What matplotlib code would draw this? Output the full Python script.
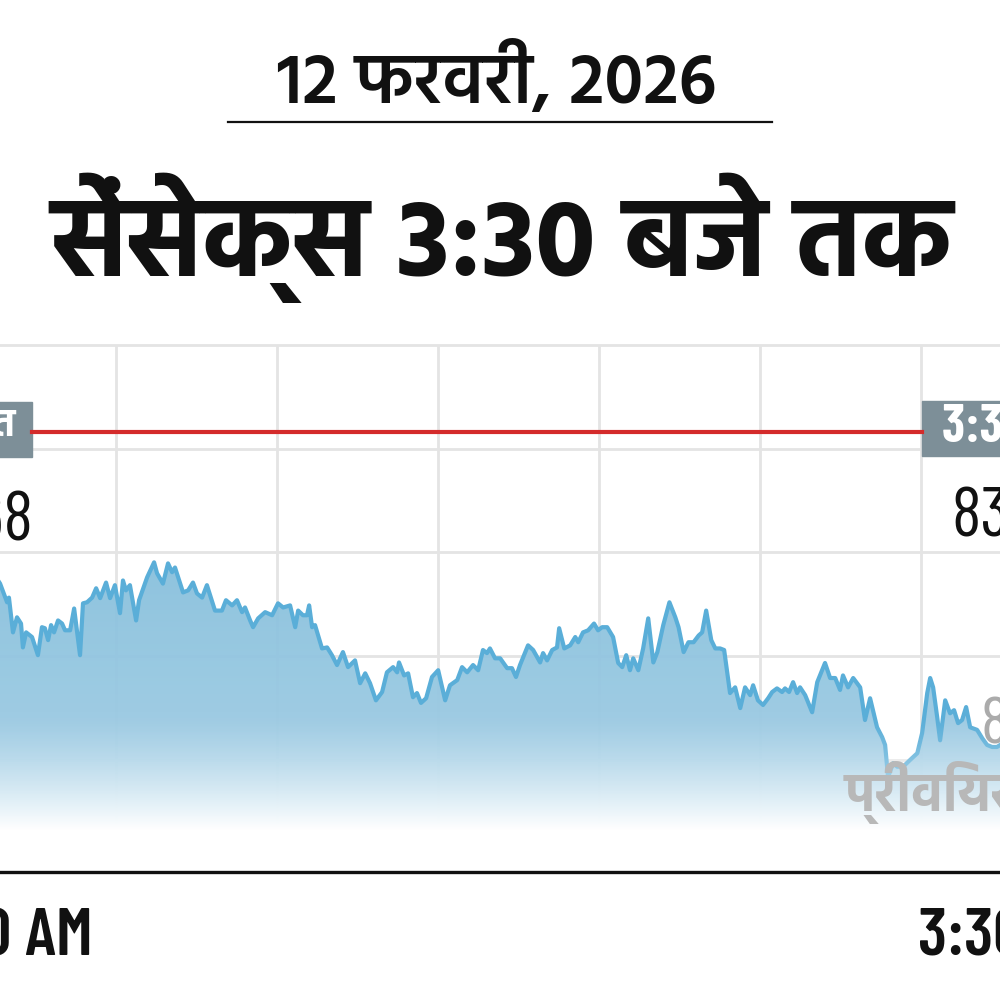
import numpy as np
import matplotlib
matplotlib.use("Agg")
import matplotlib.pyplot as plt
from matplotlib.colors import LinearSegmentedColormap
from matplotlib.patches import Polygon, Rectangle
from matplotlib.lines import Line2D

# minutes after 9:15 AM and Sensex level
minutes = [0.0, 1.9, 4.5, 5.2, 6.7, 8.2, 9.7, 10.4, 11.6, 13.8, 16.0, 17.5, 18.6, 19.8, 20.9,
           22.0, 23.5, 25.0, 26.1, 28.0, 29.5, 31.7, 32.8, 34.3, 36.2, 37.7, 39.2, 41.4, 42.9,
           44.7, 46.6, 47.7, 48.8, 50.3, 52.6, 53.7, 56.7, 59.3, 60.4, 62.6, 64.5, 66.0, 67.1,
           70.1, 72.0, 73.8, 75.3, 77.2, 79.0, 82.0, 84.6, 86.1, 88.4, 90.2, 92.1, 93.2, 95.1,
           96.2, 98.1, 100.7, 103.3, 105.5, 107.4, 110.0, 111.9, 113.0, 114.8, 116.3, 117.1,
           118.2, 119.3, 121.9, 123.8, 125.6, 127.5, 129.7, 131.6, 134.2, 136.1, 138.0, 139.8,
           142.0, 144.3, 146.1, 148.4, 149.9, 150.6, 152.5, 154.0, 155.8, 157.3, 158.8, 160.7,
           162.9, 165.2, 167.8, 169.6, 172.3, 174.1, 176.0, 178.2, 180.1, 181.9, 183.4, 184.5,
           186.4, 188.3, 190.9, 192.7, 194.2, 195.7, 198.7, 200.6, 203.2, 204.3, 205.8, 207.7,
           209.5, 210.3, 212.2, 214.4, 216.3, 217.4, 219.2, 221.1, 223.3, 224.8, 226.3, 228.2,
           230.4, 232.3, 233.8, 235.3, 236.7, 237.9, 239.8, 241.6, 243.5, 245.4, 246.9, 249.1,
           251.4, 253.6, 254.8, 256.7, 258.5, 260.4, 262.3, 263.6, 265.1, 267.0, 268.5, 270.3,
           271.8, 274.0, 275.9, 277.8, 279.6, 281.5, 282.6, 284.4, 286.3, 288.2, 289.7, 291.5,
           293.4, 294.5, 296.0, 297.5, 299.0, 300.1, 302.0, 304.6, 306.5, 309.4, 311.3, 313.2,
           315.0, 316.1, 318.0, 319.9, 322.5, 324.3, 326.2, 328.8, 330.7, 331.8, 332.9, 334.8,
           336.3, 338.5, 341.1, 343.8, 345.6, 347.5, 348.6, 349.7, 351.2, 352.3, 354.2, 356.0,
           357.5, 359.0, 360.5, 362.0, 363.5, 366.1, 368.0, 369.8, 371.7, 373.5, 374.7]
sensex = [83955, 83940, 83904, 83913, 83846, 83875, 83863, 83817, 83846, 83837, 83802, 83856,
          83854, 83831, 83860, 83846, 83869, 83863, 83850, 83850, 83892, 83802, 83902, 83904,
          83913, 83931, 83912, 83942, 83912, 83937, 83883, 83946, 83927, 83937, 83869, 83908,
          83952, 83981, 83960, 83940, 83979, 83962, 83971, 83923, 83927, 83942, 83921, 83913,
          83937, 83888, 83888, 83908, 83898, 83908, 83885, 83894, 83869, 83856, 83873, 83885,
          83879, 83902, 83894, 83898, 83856, 83888, 83879, 83879, 83898, 83856, 83860, 83815,
          83817, 83802, 83783, 83808, 83779, 83792, 83748, 83767, 83748, 83715, 83731, 83769,
          83779, 83769, 83788, 83763, 83767, 83721, 83729, 83710, 83719, 83760, 83773, 83715,
          83744, 83754, 83779, 83769, 83783, 83773, 83812, 83806, 83815, 83796, 83796, 83777,
          83777, 83760, 83783, 83821, 83812, 83788, 83806, 83792, 83812, 83817, 83854, 83815,
          83821, 83837, 83827, 83846, 83850, 83863, 83850, 83856, 83856, 83837, 83787, 83779,
          83802, 83773, 83796, 83773, 83815, 83873, 83788, 83808, 83860, 83904, 83875, 83856,
          83808, 83827, 83827, 83840, 83846, 83888, 83831, 83815, 83815, 83812, 83729, 83740,
          83700, 83740, 83725, 83744, 83715, 83706, 83719, 83731, 83738, 83731, 83738, 83731,
          83750, 83729, 83740, 83725, 83692, 83750, 83787, 83758, 83758, 83735, 83763, 83740,
          83758, 83740, 83677, 83719, 83663, 83644, 83629, 83567, 83594, 83587, 83587, 83600,
          83613, 83652, 83729, 83758, 83740, 83683, 83638, 83715, 83690, 83696, 83671, 83677,
          83702, 83663, 83658, 83642, 83629, 83625, 83625, 83629]

grid_levels = [83600, 83800, 84000, 84200, 84400]
hour_marks = [45, 105, 165, 225, 285, 345]
edge_marks = [0, 375]
edge_labels = ["9:00 AM", "3:30 PM"]

date_text = "12 फरवरी, 2026"
title_text = "सेंसेक्स 3:30 बजे तक"
open_label, open_value = "शुरुआत", "83,968"
close_label, close_value = "3:30 बजे", "83,627"
prev_label, prev_value = "प्रीवियस क्लोज", "83,674"

y_low, y_high = 83465, 84400
fade_top = 83692

hindi = ["Hind", "Noto Sans Devanagari", "DejaVu Sans"]
cond = ["Barlow Condensed", "Roboto Condensed", "DejaVu Sans"]
cond_hindi = cond[:2] + hindi

fig = plt.figure(figsize=(10, 10), dpi=100)
ax = fig.add_axes([-0.005, 0.17, 1.006, 0.485])
ax.set_xlim(0, 375)
ax.set_ylim(y_low, y_high)

for g in grid_levels:
    ax.axhline(g, color="#e4e4e4", lw=2, zorder=0.5, clip_on=False)
for h in hour_marks:
    ax.axvline(h, color="#e4e4e4", lw=2, zorder=0.5)

# gradient area under the line
verts = [(minutes[0], y_low)] + list(zip(minutes, sensex)) + [(minutes[-1], y_low)]
clip = Polygon(verts, closed=True, facecolor="none", edgecolor="none", transform=ax.transData)
cmap = LinearSegmentedColormap.from_list(
    "area", [(0, "#aad3e8"), (0.243, "#99c9e2"), (0.557, "#88c0dd"), (1, "#7ab8d9")])
grad = np.linspace(0, 1, 256).reshape(-1, 1)
img = ax.imshow(grad, extent=[0, 375, y_low, y_high], origin="lower", aspect="auto",
                cmap=cmap, alpha=0.95, zorder=1)
img.set_clip_path(clip)

ax.plot(minutes, sensex, color="#5aaed8", lw=3, zorder=3, solid_joinstyle="round")

# white fade towards the bottom
t = np.linspace(0, 1, 256)
fade = np.ones((256, 1, 4))
fade[:, 0, 3] = (1 - t) ** 1.5
ax.imshow(fade, extent=[0, 375, y_low, fade_top], origin="lower", aspect="auto", zorder=4)
ax.set_ylim(y_low, y_high)
ax.set_xlim(0, 375)

for s in ["top", "left", "right"]:
    ax.spines[s].set_visible(False)
ax.spines["bottom"].set_position(("outward", 30))
ax.spines["bottom"].set_linewidth(2.4)
ax.spines["bottom"].set_color("#111111")
ax.set_yticks([])
ax.set_xticks(edge_marks)
ax.tick_params(axis="x", direction="inout", length=12, width=1.2, labelbottom=False,
               colors="#111111")
ax.annotate(edge_labels[0], xy=(edge_marks[0], 0), xycoords=("data", "axes fraction"),
            xytext=(98, -108), textcoords="offset pixels", ha="right", va="center",
            fontsize=49, weight=600, family=cond, color="#111111", annotation_clip=False)
ax.annotate(edge_labels[1], xy=(edge_marks[1], 0), xycoords=("data", "axes fraction"),
            xytext=(-83, -108), textcoords="offset pixels", ha="left", va="center",
            fontsize=49, weight=600, family=cond, color="#111111", annotation_clip=False)

# previous close note
fig.text(0.980, 1 - 0.726, prev_value, ha="left", va="center", fontsize=48,
         color="#ababab", family=cond, zorder=6)
fig.text(0.845, 1 - 0.792, prev_label, ha="left", va="center", fontsize=38,
         weight="bold", color="#b8b8b8", family=hindi, zorder=6)

# header strip: start and 3:30 markers
fig.add_artist(Line2D([0.032, 0.922], [1 - 0.432, 1 - 0.432], color="#d42b2b", lw=3))
fig.add_artist(Rectangle((-0.1, 1 - 0.457), 0.132, 0.055, color="#7d8f98"))
fig.add_artist(Rectangle((0.922, 1 - 0.456), 0.2, 0.055, color="#7d8f98"))
fig.text(0.016, 1 - 0.429, open_label, ha="right", va="center", fontsize=28,
         weight="bold", color="white", family=cond_hindi)
fig.text(0.942, 1 - 0.428, close_label, ha="left", va="center", fontsize=38,
         weight="bold", color="white", family=cond_hindi)
fig.text(0.033, 1 - 0.522, open_value, ha="right", va="center", fontsize=50,
         color="#111111", family=cond)
fig.text(0.951, 1 - 0.518, close_value, ha="left", va="center", fontsize=50,
         color="#111111", family=cond)

# titles
fig.text(0.497, 1 - 0.080, date_text, ha="center", va="center", fontsize=51,
         weight=600, color="#111111", family=hindi)
fig.add_artist(Line2D([0.228, 0.772], [1 - 0.122, 1 - 0.122], color="#111111", lw=1.6))
fig.text(0.502, 1 - 0.238, title_text, ha="center", va="center", fontsize=80,
         weight="bold", color="#111111", family=hindi)

fig.savefig("out.png", dpi=100)
